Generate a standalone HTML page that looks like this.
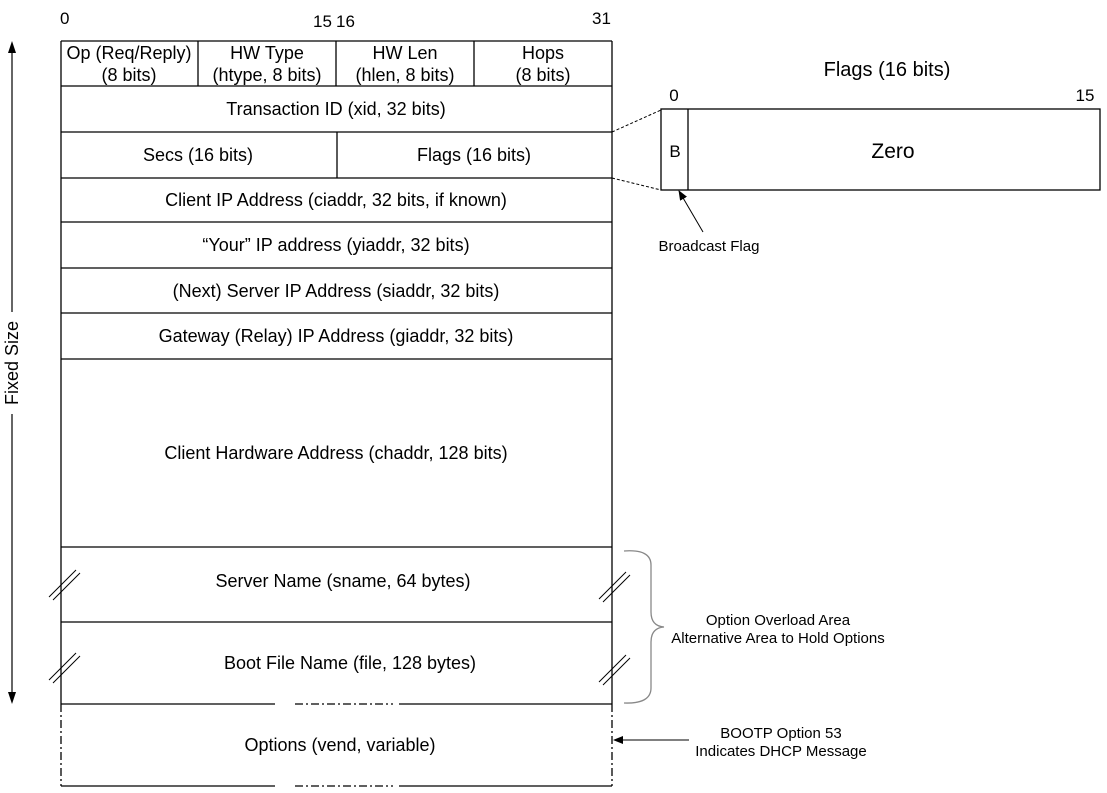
<!DOCTYPE html>
<html><head><style>
html,body{margin:0;padding:0;background:#fff;}
svg{display:block;}
text{font-family:"Liberation Sans",Arial,sans-serif;fill:#000;}
</style></head><body>
<svg width="1107" height="793" viewBox="0 0 1107 793" xmlns="http://www.w3.org/2000/svg">
<defs>
<marker id="ah" markerWidth="10" markerHeight="8" refX="9" refY="4" orient="auto" markerUnits="userSpaceOnUse">
<path d="M0,0 L10,4 L0,8 z" fill="#000"/></marker>
</defs>
<g font-size="17">
<text x="60" y="24">0</text>
<text x="313" y="27">15</text>
<text x="336" y="27">16</text>
<text x="592" y="24">31</text>
</g>
<g stroke="#000" stroke-width="1.3" fill="none">
<line x1="61" y1="41" x2="612" y2="41"/>
<line x1="61" y1="41" x2="61" y2="704"/>
<line x1="612" y1="41" x2="612" y2="704"/>
<line x1="198" y1="41" x2="198" y2="86"/>
<line x1="336" y1="41" x2="336" y2="86"/>
<line x1="474" y1="41" x2="474" y2="86"/>
<line x1="337" y1="132" x2="337" y2="178"/>
<line x1="61" y1="86" x2="612" y2="86"/>
<line x1="61" y1="132" x2="612" y2="132"/>
<line x1="61" y1="178" x2="612" y2="178"/>
<line x1="61" y1="222" x2="612" y2="222"/>
<line x1="61" y1="268" x2="612" y2="268"/>
<line x1="61" y1="313" x2="612" y2="313"/>
<line x1="61" y1="359" x2="612" y2="359"/>
<line x1="61" y1="547" x2="612" y2="547"/>
<line x1="61" y1="622" x2="612" y2="622"/>
<line x1="61" y1="704" x2="275" y2="704"/>
<line x1="399" y1="704" x2="612" y2="704"/>
<line x1="295" y1="704" x2="393" y2="704" stroke-dasharray="8,3,2,3"/>
<line x1="61" y1="786" x2="275" y2="786"/>
<line x1="399" y1="786" x2="612" y2="786"/>
<line x1="295" y1="786" x2="393" y2="786" stroke-dasharray="8,3,2,3"/>
<line x1="61" y1="704" x2="61" y2="786" stroke-dasharray="8,3,2,3"/>
<line x1="612" y1="704" x2="612" y2="786" stroke-dasharray="8,3,2,3"/>
</g>
<g stroke="#000" stroke-width="1">
<line x1="49" y1="597" x2="76" y2="570"/><line x1="53" y1="600" x2="80" y2="573"/>
<line x1="49" y1="680" x2="76" y2="653"/><line x1="53" y1="683" x2="80" y2="656"/>
<line x1="599" y1="599" x2="626" y2="572"/><line x1="603" y1="602" x2="630" y2="575"/>
<line x1="599" y1="682" x2="626" y2="655"/><line x1="603" y1="685" x2="630" y2="658"/>
</g>
<g font-size="18" text-anchor="middle">
<text x="129" y="59">Op (Req/Reply)</text><text x="129" y="81">(8 bits)</text>
<text x="267" y="59">HW Type</text><text x="267" y="81">(htype, 8 bits)</text>
<text x="405" y="59">HW Len</text><text x="405" y="81">(hlen, 8 bits)</text>
<text x="543" y="59">Hops</text><text x="543" y="81">(8 bits)</text>
<text x="336" y="115">Transaction ID (xid, 32 bits)</text>
<text x="198" y="161">Secs (16 bits)</text>
<text x="474" y="161">Flags (16 bits)</text>
<text x="336" y="206">Client IP Address (ciaddr, 32 bits, if known)</text>
<text x="336" y="251">“Your” IP address (yiaddr, 32 bits)</text>
<text x="336" y="297">(Next) Server IP Address (siaddr, 32 bits)</text>
<text x="336" y="342">Gateway (Relay) IP Address (giaddr, 32 bits)</text>
<text x="336" y="459">Client Hardware Address (chaddr, 128 bits)</text>
<text x="343" y="587">Server Name (sname, 64 bytes)</text>
<text x="350" y="669">Boot File Name (file, 128 bytes)</text>
<text x="340" y="751">Options (vend, variable)</text>
</g>
<!-- Fixed size arrow -->
<line x1="12" y1="52" x2="12" y2="312" stroke="#000" stroke-width="1.2"/>
<line x1="12" y1="414" x2="12" y2="694" stroke="#000" stroke-width="1.2"/>
<path d="M12,41 L8,53 L16,53 z" fill="#000"/>
<path d="M12,704 L8,692 L16,692 z" fill="#000"/>
<text x="0" y="0" font-size="18" text-anchor="middle" transform="translate(18,363) rotate(-90)">Fixed Size</text>
<!-- Flags detail -->
<text x="887" y="76" font-size="20" text-anchor="middle">Flags (16 bits)</text>
<text x="674" y="101" font-size="17" text-anchor="middle">0</text>
<text x="1085" y="101" font-size="17" text-anchor="middle">15</text>
<rect x="661" y="109" width="439" height="81" fill="none" stroke="#000" stroke-width="1.3"/>
<line x1="688" y1="109" x2="688" y2="190" stroke="#000" stroke-width="1.3"/>
<text x="675" y="157" font-size="17" text-anchor="middle">B</text>
<text x="893" y="158" font-size="21" text-anchor="middle">Zero</text>
<line x1="612" y1="132" x2="661" y2="110" stroke="#000" stroke-dasharray="3,2"/>
<line x1="612" y1="178" x2="661" y2="190" stroke="#000" stroke-dasharray="3,2"/>
<line x1="703" y1="232" x2="679" y2="191" stroke="#000" marker-end="url(#ah)"/>
<text x="709" y="251" font-size="15" text-anchor="middle">Broadcast Flag</text>
<!-- brace -->
<path d="M624,551 Q651,549 651,565 L651,612 Q651,626 664,627 Q651,628 651,642 L651,688 Q651,704 624,703" fill="none" stroke="#888" stroke-width="1.3"/>
<text x="778" y="625" font-size="15" text-anchor="middle">Option Overload Area</text>
<text x="778" y="643" font-size="15" text-anchor="middle">Alternative Area to Hold Options</text>
<line x1="689" y1="740" x2="614" y2="740" stroke="#000" marker-end="url(#ah)"/>
<text x="781" y="738" font-size="15" text-anchor="middle">BOOTP Option 53</text>
<text x="781" y="756" font-size="15" text-anchor="middle">Indicates DHCP Message</text>
</svg>
</body></html>
